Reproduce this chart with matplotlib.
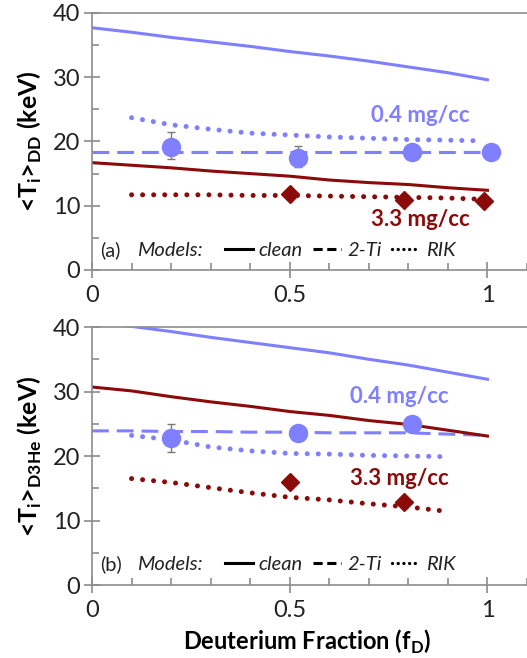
import numpy as np
import matplotlib
matplotlib.use("Agg")
import matplotlib.pyplot as plt
from matplotlib.lines import Line2D
from matplotlib.ticker import MultipleLocator

plt.rcParams['font.family'] = ['Lato', 'DejaVu Sans']

blue = "#7F7FFF"
red = "#8B0A0A"
grey = "#8C8C8C"

# model grid
fx = [0, 0.1, 0.2, 0.3, 0.4, 0.5, 0.6, 0.7, 0.8, 0.9, 1.0]
fx_rik = [0.1, 0.2, 0.3, 0.4, 0.5, 0.6, 0.7, 0.8, 0.9, 0.99]
fx_rik_b = [0.1, 0.2, 0.3, 0.4, 0.5, 0.6, 0.7, 0.8, 0.9]

# (a) <Ti>_DD
dd_clean_lo = [37.7, 37.0, 36.2, 35.5, 34.8, 34.0, 33.3, 32.5, 31.6, 30.7, 29.6]
dd_2ti_lo = [18.4, 18.4, 18.4, 18.4, 18.4, 18.4, 18.4, 18.4, 18.4, 18.4, 18.4]
dd_rik_lo = [23.7, 22.6, 21.9, 21.3, 21.0, 20.7, 20.5, 20.3, 20.2, 20.1]
dd_clean_hi = [16.7, 16.3, 15.9, 15.4, 15.0, 14.6, 14.0, 13.6, 13.3, 12.8, 12.4]
dd_rik_hi = [11.7, 11.7, 11.7, 11.6, 11.6, 11.5, 11.4, 11.3, 11.2, 11.0]
dd_exp_lo_x = [0.2, 0.52, 0.81, 1.01]
dd_exp_lo = [19.2, 17.5, 18.4, 18.4]
dd_exp_lo_err_dn = [2.0, 1.4, 0, 0]
dd_exp_lo_err_up = [2.2, 1.8, 0, 0]
dd_exp_hi_x = [0.5, 0.79, 0.99]
dd_exp_hi = [11.8, 10.9, 10.8]

# (b) <Ti>_D3He
d3_clean_lo = [40.9, 40.1, 39.3, 38.4, 37.6, 36.8, 36.0, 35.0, 34.1, 33.0, 31.9]
d3_2ti_lo = [23.9, 23.9, 23.8, 23.8, 23.7, 23.7, 23.6, 23.6, 23.6, 23.4, 23.2]
d3_rik_lo = [23.2, 22.5, 21.4, 20.8, 20.4, 20.3, 20.1, 20.0, 19.9]
d3_clean_hi = [30.7, 30.1, 29.2, 28.4, 27.7, 26.9, 26.3, 25.5, 24.9, 24.0, 23.1]
d3_rik_hi = [16.5, 15.9, 15.1, 14.3, 13.6, 13.2, 12.6, 12.1, 11.4]
d3_exp_lo_x = [0.2, 0.52, 0.81]
d3_exp_lo = [22.8, 23.5, 24.9]
d3_exp_lo_err_dn = [2.2, 0, 0]
d3_exp_lo_err_up = [2.1, 0, 0]
d3_exp_hi_x = [0.5, 0.79]
d3_exp_hi = [16.0, 12.8]

dot = dict(linestyle=(0, (0.01, 2.2)), dash_capstyle="round", lw=3.6)
dash = dict(linestyle=(0, (5.5, 2.6)), lw=2.2)


def style_axes(ax):
    ax.set_xlim(0, 1.1)
    ax.set_ylim(0, 40)
    for s in ["top", "right"]:
        ax.spines[s].set_visible(False)
    for s in ["left", "bottom"]:
        ax.spines[s].set_color(grey)
        ax.spines[s].set_linewidth(1.2)
    ax.axhline(40, color=grey, lw=1.2, clip_on=False, zorder=0)
    ax.set_xticks([0, 0.5, 1])
    ax.set_xticklabels(["0", "0.5", "1"])
    ax.xaxis.set_minor_locator(MultipleLocator(0.1))
    ax.yaxis.set_major_locator(MultipleLocator(10))
    ax.yaxis.set_minor_locator(MultipleLocator(5))
    ax.tick_params(which="major", direction="inout", length=11, width=1.2,
                   color=grey, labelsize=17, labelcolor="#222222")
    ax.tick_params(axis="y", which="major", pad=3)
    ax.tick_params(axis="x", which="major", pad=5)
    ax.tick_params(which="minor", direction="in", length=5, width=1.2, color=grey)


def legend_row(ax, tag, y):
    ax.text(0.02, y, tag, fontsize=14.5, va="center", color="#222222")
    ax.text(0.113, y, "Models:", fontsize=14.5, style="italic", va="center",
            color="#222222")
    handles = [Line2D([], [], color="black", lw=2.2),
               Line2D([], [], color="black", linestyle=(0, (3, 1.5)), lw=2.2),
               Line2D([], [], color="black", linestyle=(0, (0.01, 1.7)),
                      dash_capstyle="round", lw=2.4)]
    ax.legend(handles, ["clean", "2-Ti", "RIK"], ncol=3, frameon=False,
              loc="center left", bbox_to_anchor=(0.305, y / 40),
              prop={"style": "italic", "size": 14.5}, handlelength=1.4,
              handletextpad=0.3, columnspacing=0.5, borderpad=0,
              borderaxespad=0, labelcolor="#222222")


fig = plt.figure(figsize=(5.27, 6.58), dpi=100)
ax1 = fig.add_axes([0.1746, 0.5897, 0.8254, 0.3906])
ax2 = fig.add_axes([0.1746, 0.1109, 0.8254, 0.3921])

# panel (a)
ax1.plot(fx, dd_clean_lo, color=blue, lw=2.2)
ax1.plot(fx, dd_2ti_lo, color=blue, **dash)
ax1.plot(fx_rik, dd_rik_lo, color=blue, **dot)
ax1.plot(fx, dd_clean_hi, color=red, lw=2.2)
ax1.plot(fx_rik, dd_rik_hi, color=red, **dot)
ax1.errorbar(dd_exp_lo_x, dd_exp_lo, yerr=[dd_exp_lo_err_dn, dd_exp_lo_err_up],
             fmt="o", color=blue, ms=13, ecolor="#7a7a7a", elinewidth=1,
             capsize=3, capthick=1, zorder=5, clip_on=False)
ax1.plot(dd_exp_hi_x, dd_exp_hi, "D", color=red, ms=9, zorder=5)
ax1.text(0.83, 24.1, "0.4 mg/cc", color=blue, fontsize=16, fontweight="bold",
         ha="center", va="center")
ax1.text(0.83, 7.8, "3.3 mg/cc", color=red, fontsize=16, fontweight="bold",
         ha="center", va="center")
style_axes(ax1)
legend_row(ax1, "(a)", 3.0)
ax1.set_ylabel(r"<T$_\mathregular{i}$>$_\mathregular{DD}$ (keV)", fontsize=18,
               fontweight="bold", labelpad=6)

# panel (b)
ax2.plot(fx, d3_clean_lo, color=blue, lw=2.2)
ax2.plot(fx, d3_2ti_lo, color=blue, **dash)
ax2.plot(fx_rik_b, d3_rik_lo, color=blue, **dot)
ax2.plot(fx, d3_clean_hi, color=red, lw=2.2)
ax2.plot(fx_rik_b, d3_rik_hi, color=red, **dot)
ax2.errorbar(d3_exp_lo_x, d3_exp_lo, yerr=[d3_exp_lo_err_dn, d3_exp_lo_err_up],
             fmt="o", color=blue, ms=13, ecolor="#7a7a7a", elinewidth=1,
             capsize=3, capthick=1, zorder=5)
ax2.plot(d3_exp_hi_x, d3_exp_hi, "D", color=red, ms=9, zorder=5)
ax2.text(0.776, 29.2, "0.4 mg/cc", color=blue, fontsize=16, fontweight="bold",
         ha="center", va="center")
ax2.text(0.776, 16.5, "3.3 mg/cc", color=red, fontsize=16, fontweight="bold",
         ha="center", va="center")
style_axes(ax2)
legend_row(ax2, "(b)", 3.25)
ax2.set_ylabel(r"<T$_\mathregular{i}$>$_\mathregular{D3He}$ (keV)", fontsize=18,
               fontweight="bold", labelpad=6)
ax2.set_xlabel(r"Deuterium Fraction (f$_\mathregular{D}$)", fontsize=17,
               fontweight="bold")
ax2.xaxis.set_label_coords(0.495, -0.165)

fig.savefig("out.png", dpi=100)
